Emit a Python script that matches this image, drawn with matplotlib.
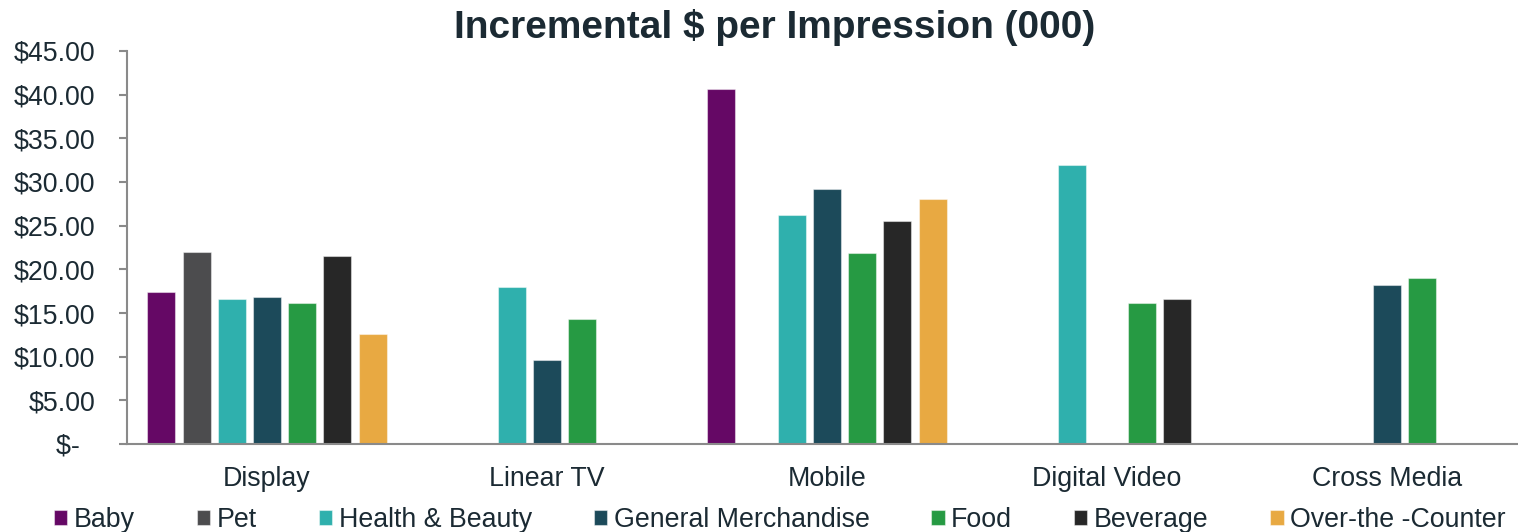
"""
Incremental $ per Impression (000) - grouped bar chart by media type and category.
"""

import numpy as np
import matplotlib
matplotlib.use("Agg")
import matplotlib.pyplot as plt

plt.rcParams["font.family"] = ["Liberation Sans", "DejaVu Sans"]

# --- data --------------------------------------------------------------------
media = ["Display", "Linear TV", "Mobile", "Digital Video", "Cross Media"]

baby = [17.4, np.nan, 40.6, np.nan, np.nan]
pet = [21.95, np.nan, np.nan, np.nan, np.nan]
health_beauty = [16.55, 17.95, 26.2, 31.9, np.nan]
general_merch = [16.85, 9.65, 29.2, np.nan, 18.25]
food = [16.1, 14.3, 21.85, 16.1, 19.0]
beverage = [21.5, np.nan, 25.5, 16.65, np.nan]
otc = [12.65, np.nan, 28.05, np.nan, np.nan]

series_names = ["Baby", "Pet", "Health & Beauty", "General Merchandise",
                "Food", "Beverage", "Over-the -Counter"]
series_values = [baby, pet, health_beauty, general_merch, food, beverage, otc]
series_colors = ["#650865", "#4c4c4e", "#2fb0ad", "#1c4a5a",
                 "#269a43", "#272727", "#e8a942"]

y_ticks = [0, 5, 10, 15, 20, 25, 30, 35, 40, 45]

TEXT = "#1b2a33"
AXIS = "#8a8a8a"

# --- figure -------------------------------------------------------------------
fig = plt.figure(figsize=(15.18, 5.32), dpi=100)
ax = fig.add_axes([127 / 1518, 88 / 532, 1400 / 1518, 393 / 532])

x = np.arange(len(media))
slot = 0.1257
width = 0.1
for i, (name, vals, color) in enumerate(zip(series_names, series_values, series_colors)):
    vals = np.array(vals, dtype=float)
    ok = ~np.isnan(vals)
    ax.bar(x[ok] + (i - 3) * slot, vals[ok], width=width, color=color,
           edgecolor=(1, 1, 1, 0.45), linewidth=0.8, label=name, zorder=2)

ax.set_xlim(-0.5, len(media) - 0.5)
ax.set_ylim(0, 45)
ax.set_yticks(y_ticks)
ax.set_yticklabels(["$-  "] + [f"${v:.2f}" for v in y_ticks[1:]])
ax.set_xticks(x)
ax.set_xticklabels(media)

ax.tick_params(axis="y", length=6, width=1.5, color=AXIS, pad=17,
               labelsize=19.3, labelcolor=TEXT)
ax.tick_params(axis="x", length=0, pad=16, labelsize=19.3, labelcolor=TEXT)

for side in ("top", "right"):
    ax.spines[side].set_visible(False)
for side in ("left", "bottom"):
    ax.spines[side].set_color(AXIS)
    ax.spines[side].set_linewidth(1.5)

fig.text(775 / 1518, 1 - 28 / 532, "Incremental $ per Impression (000)",
         ha="center", va="center", fontsize=28, fontweight="bold", color=TEXT)

fig.legend(loc="center", bbox_to_anchor=(780 / 1518, 12 / 532), ncol=7,
           frameon=False, fontsize=19.3, labelcolor=TEXT,
           handlelength=0.5, handleheight=0.5, handletextpad=0.25,
           columnspacing=2.3, borderaxespad=0)

fig.savefig("out.png", dpi=100)
